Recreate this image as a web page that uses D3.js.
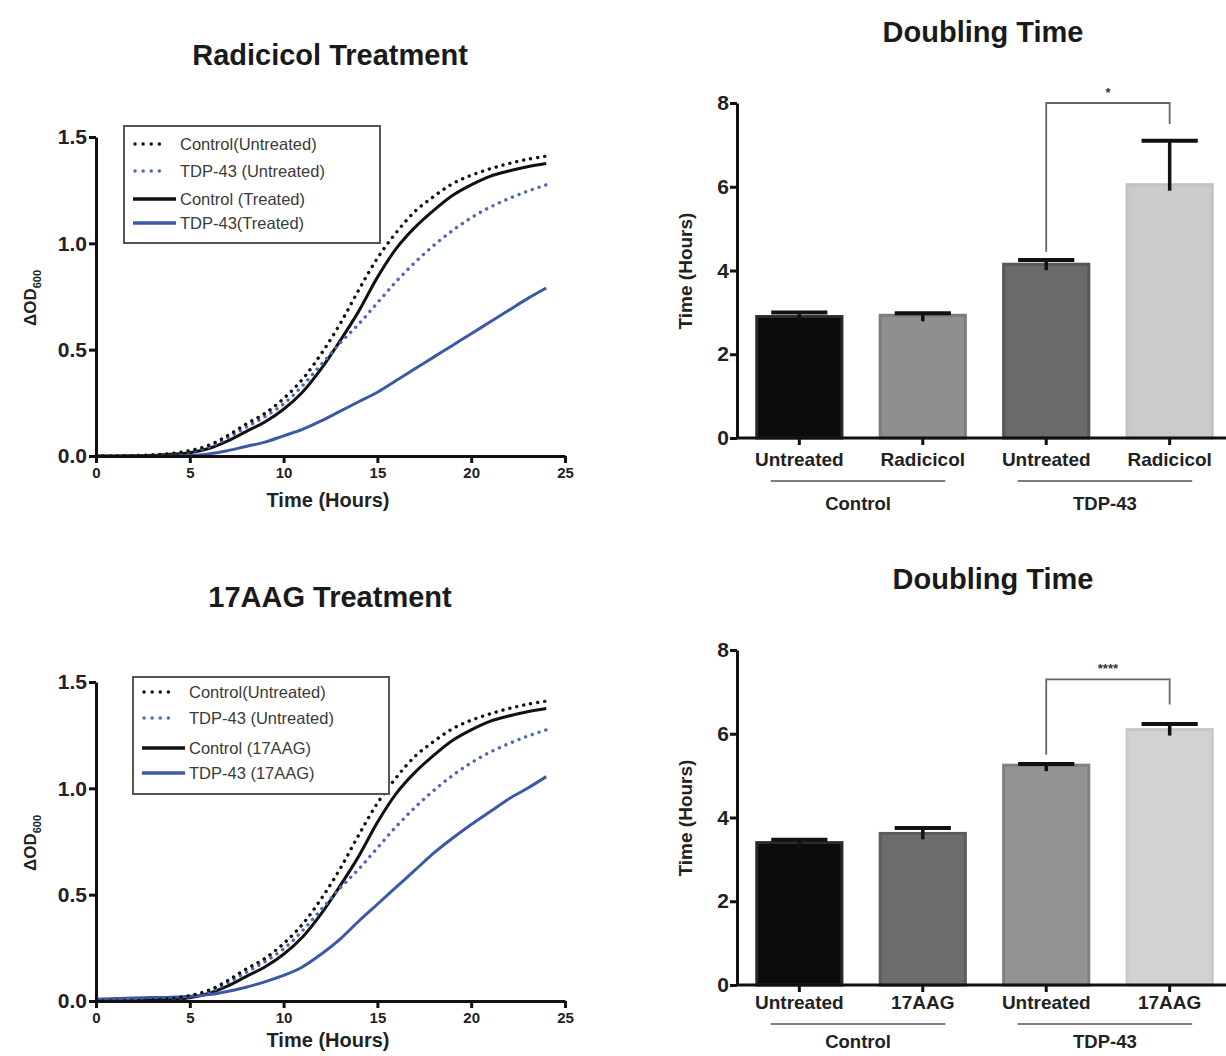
<!DOCTYPE html>
<html>
<head>
<meta charset="utf-8">
<script src="https://cdn.jsdelivr.net/npm/d3@7"></script>
<style>
  html, body { margin: 0; padding: 0; background: #fff; }
  svg { display: block; }
  text { font-family: "Liberation Sans", Arial, Helvetica, sans-serif; }
</style>
</head>
<body>
<svg id="chart" width="1226" height="1056"></svg>
<script>
// ---------------- DATA ----------------
const hours = [0,1,2,3,4,5,6,7,8,9,10,11,12,13,14,15,16,17,18,19,20,21,22,23,24];

const controlUntreated = [0,0,0.002,0.005,0.012,0.025,0.05,0.095,0.15,0.20,0.27,0.36,0.48,0.62,0.78,0.93,1.05,1.15,1.22,1.28,1.32,1.35,1.375,1.395,1.41];
const tdpUntreated     = [0,0,0.002,0.004,0.01,0.02,0.042,0.085,0.135,0.185,0.245,0.33,0.43,0.53,0.62,0.72,0.82,0.91,0.99,1.06,1.12,1.17,1.21,1.245,1.275];
const controlTreated   = [0,0,0.001,0.003,0.008,0.015,0.035,0.07,0.115,0.16,0.22,0.30,0.41,0.54,0.68,0.84,0.975,1.075,1.155,1.225,1.275,1.315,1.34,1.36,1.375];
const tdpRadicicol     = [0,0,0,0,0,0.002,0.01,0.025,0.045,0.065,0.095,0.125,0.165,0.21,0.255,0.30,0.355,0.41,0.465,0.52,0.575,0.63,0.685,0.74,0.79];
const control17AAG     = [0,0,0.001,0.003,0.008,0.015,0.035,0.07,0.115,0.16,0.22,0.30,0.41,0.54,0.68,0.84,0.975,1.075,1.155,1.225,1.275,1.315,1.34,1.36,1.375];
const tdp17AAG         = [0.008,0.012,0.014,0.016,0.018,0.022,0.03,0.045,0.065,0.09,0.12,0.16,0.22,0.29,0.375,0.455,0.535,0.615,0.695,0.765,0.83,0.89,0.95,1.0,1.055];

const odTicks = [0, 0.5, 1.0, 1.5];
const timeTicks = [0, 5, 10, 15, 20, 25];

const legendRadicicol = ["Control(Untreated)", "TDP-43 (Untreated)", "Control (Treated)", "TDP-43(Treated)"];
const legend17AAG = ["Control(Untreated)", "TDP-43 (Untreated)", "Control (17AAG)", "TDP-43 (17AAG)"];

const barCatsRadicicol = ["Untreated", "Radicicol", "Untreated ", "Radicicol "];
const barValsRadicicol = [2.9, 2.93, 4.15, 6.05];
const barErrRadicicol  = [3.0, 2.98, 4.25, 7.1];

const barCats17AAG = ["Untreated", "17AAG", "Untreated ", "17AAG "];
const barVals17AAG = [3.4, 3.62, 5.25, 6.1];
const barErr17AAG  = [3.47, 3.75, 5.28, 6.23];

const barGroups = ["Control", "TDP-43"];
const timeTicksBar = [0, 2, 4, 6, 8];

// ---------------- DRAW ----------------
const svg = d3.select("#chart");
const FONT = '"Liberation Sans", Arial, Helvetica, sans-serif';
const BLUE = "#3d58a6";
const BLUE_DOT = "#5069b4";

function drawGrowth(cfg) {
  const g = svg.append("g");
  const x = d3.scaleLinear().domain([0, 25]).range([96, 565]);
  const y = d3.scaleLinear().domain([0, 1.5]).range([cfg.y0, cfg.y0 - 319]);

  g.append("text").attr("x", 330).attr("y", cfg.titleY)
    .attr("text-anchor", "middle").attr("font-size", 29).attr("font-weight", "bold")
    .attr("fill", "#1a1a1a").text(cfg.title);

  const series = [
    { vals: cfg.s[0], color: "#111", dash: true },
    { vals: cfg.s[1], color: BLUE_DOT, dash: true },
    { vals: cfg.s[2], color: "#111", dash: false },
    { vals: cfg.s[3], color: BLUE, dash: false }
  ];
  const line = d3.line().x((d, i) => x(hours[i])).y(d => y(d)).curve(d3.curveCatmullRom.alpha(0.5));
  [2, 3, 1, 0].forEach(k => {
    const s = series[k];
    g.append("path").datum(s.vals).attr("d", line)
      .attr("fill", "none").attr("stroke", s.color)
      .attr("stroke-width", s.dash ? 3.4 : 3)
      .attr("stroke-linecap", s.dash ? "round" : "butt")
      .attr("stroke-dasharray", s.dash ? "0.1,7" : null);
  });

  const xAxis = d3.axisBottom(x).tickValues(timeTicks).tickFormat(d3.format("d")).tickSize(7).tickSizeOuter(0);
  const gx = g.append("g").attr("transform", `translate(0,${cfg.y0})`).call(xAxis);
  gx.select(".domain").attr("stroke", "#111").attr("stroke-width", 3);
  gx.selectAll(".tick line").attr("stroke", "#111").attr("stroke-width", 3);
  gx.selectAll(".tick text").attr("font-family", FONT).attr("font-size", 15).attr("font-weight", "bold").attr("fill", "#222").attr("dy", "0.8em");

  const yAxis = d3.axisLeft(y).tickValues(odTicks).tickFormat(d3.format(".1f")).tickSize(7).tickSizeOuter(0);
  const gy = g.append("g").attr("transform", "translate(96,0)").call(yAxis);
  gy.select(".domain").attr("stroke", "#111").attr("stroke-width", 3);
  gy.selectAll(".tick line").attr("stroke", "#111").attr("stroke-width", 3);
  gy.selectAll(".tick text").attr("font-family", FONT).attr("font-size", 21).attr("font-weight", "bold").attr("fill", "#222").attr("dx", "1px");

  g.append("text").attr("x", 328).attr("y", cfg.y0 + cfg.xlabOff)
    .attr("text-anchor", "middle").attr("font-size", 20).attr("font-weight", "bold")
    .attr("fill", "#222").text("Time (Hours)");
  const yl = g.append("text")
    .attr("transform", `translate(36,${cfg.y0 - 158}) rotate(-90)`)
    .attr("text-anchor", "middle").attr("font-size", 17).attr("font-weight", "bold").attr("fill", "#222");
  yl.append("tspan").text("\u0394OD");
  yl.append("tspan").attr("font-size", 11).attr("dy", 5).text("600");

  const lg = g.append("g").attr("transform", `translate(${cfg.legX},${cfg.legY})`);
  lg.append("rect").attr("x", 0).attr("y", 0).attr("width", 256).attr("height", 117)
    .attr("fill", "#fff").attr("stroke", "#555").attr("stroke-width", 2);
  series.forEach((s, i) => {
    const ry = cfg.rows[i];
    lg.append("line").attr("x1", s.dash ? 11 : 9).attr("x2", s.dash ? 38 : 52).attr("y1", ry).attr("y2", ry)
      .attr("stroke", s.color).attr("stroke-width", s.dash ? 3.4 : 3.5)
      .attr("stroke-linecap", s.dash ? "round" : "butt")
      .attr("stroke-dasharray", s.dash ? "0.1,8" : null);
    lg.append("text").attr("x", 56).attr("y", ry).attr("dy", "0.36em")
      .attr("font-size", 16.5).attr("fill", "#3a3a3a").text(cfg.legend[i]);
  });
}

function drawBars(cfg) {
  const g = svg.append("g");
  const x = d3.scaleBand().domain(cfg.cats).range([737, 1232]).paddingInner(0.31).paddingOuter(0.16);
  const y = d3.scaleLinear().domain([0, 8]).range([cfg.y0, cfg.y0 - 335]);

  g.append("text").attr("x", cfg.titleX).attr("y", cfg.titleY)
    .attr("text-anchor", "middle").attr("font-size", 29).attr("font-weight", "bold")
    .attr("fill", "#1a1a1a").text("Doubling Time");

  cfg.cats.forEach((c, i) => {
    g.append("rect").attr("x", x(c)).attr("y", y(cfg.vals[i]))
      .attr("width", x.bandwidth()).attr("height", y(0) - y(cfg.vals[i]))
      .attr("fill", cfg.fills[i]).attr("stroke", cfg.strokes[i]).attr("stroke-width", 3);
    const cx = x(c) + x.bandwidth() / 2;
    const cap = x.bandwidth() * 0.66;
    g.append("line").attr("x1", cx).attr("x2", cx).attr("y1", y(cfg.vals[i]) + 6).attr("y2", y(cfg.err[i]))
      .attr("stroke", "#111").attr("stroke-width", 3.5);
    g.append("line").attr("x1", cx - cap / 2).attr("x2", cx + cap / 2).attr("y1", y(cfg.err[i])).attr("y2", y(cfg.err[i]))
      .attr("stroke", "#111").attr("stroke-width", 4);
  });

  const yAxis = d3.axisLeft(y).tickValues(timeTicksBar).tickSize(7).tickSizeOuter(0);
  const gy = g.append("g").attr("transform", "translate(737,0)").call(yAxis);
  gy.select(".domain").attr("stroke", "#111").attr("stroke-width", 3);
  gy.selectAll(".tick line").attr("stroke", "#111").attr("stroke-width", 3);
  gy.selectAll(".tick text").attr("font-family", FONT).attr("font-size", 21).attr("fill", "#222").attr("font-weight", "bold").attr("dx", "2px");

  const xAxis = d3.axisBottom(x).tickSize(7).tickSizeOuter(0);
  const gx = g.append("g").attr("transform", `translate(0,${cfg.y0})`).call(xAxis);
  gx.select(".domain").attr("d", `M737,0H1226`).attr("stroke", "#111").attr("stroke-width", 3);
  gx.selectAll(".tick line").attr("stroke", "#111").attr("stroke-width", 3);
  gx.selectAll(".tick text").attr("font-family", FONT).attr("font-size", 19).attr("font-weight", "bold").attr("fill", "#222")
    .attr("y", cfg.tickOff).attr("dy", "0.35em");

  barGroups.forEach((grp, k) => {
    const c0 = cfg.cats[k * 2], c1 = cfg.cats[k * 2 + 1];
    const xa = x(c0) + 14, xb = x(c1) + x.bandwidth() - 20;
    g.append("line").attr("x1", xa).attr("x2", xb).attr("y1", cfg.y0 + cfg.lineOff).attr("y2", cfg.y0 + cfg.lineOff)
      .attr("stroke", "#555").attr("stroke-width", 1.5);
    g.append("text").attr("x", (xa + xb) / 2).attr("y", cfg.y0 + cfg.grpOff).attr("dy", "0.35em")
      .attr("text-anchor", "middle").attr("font-size", 18.5).attr("font-weight", "bold").attr("fill", "#222").text(grp);
  });

  const ca = x(cfg.cats[2]) + x.bandwidth() / 2, cb = x(cfg.cats[3]) + x.bandwidth() / 2;
  const yTop = y(cfg.brTop);
  g.append("path").attr("d", `M${ca},${y(cfg.brL)}V${yTop}H${cb}V${y(cfg.brR)}`)
    .attr("fill", "none").attr("stroke", "#666").attr("stroke-width", 1.8);
  g.append("text").attr("x", (ca + cb) / 2).attr("y", yTop - 6)
    .attr("text-anchor", "middle").attr("font-size", 13).attr("font-weight", "bold").attr("fill", "#333").text(cfg.star);

  g.append("text")
    .attr("transform", `translate(692,${cfg.y0 - 167}) rotate(-90)`)
    .attr("text-anchor", "middle").attr("font-size", 19).attr("font-weight", "bold").attr("fill", "#222")
    .text("Time (Hours)");
}

drawGrowth({ title: "Radicicol Treatment", titleY: 65, y0: 456, legX: 124, legY: 126, xlabOff: 51,
  rows: [18, 45, 73, 97],
  s: [controlUntreated, tdpUntreated, controlTreated, tdpRadicicol], legend: legendRadicicol });
drawGrowth({ title: "17AAG Treatment", titleY: 607, y0: 1001, legX: 133, legY: 677, xlabOff: 46,
  rows: [15, 41, 71, 96],
  s: [controlUntreated, tdpUntreated, control17AAG, tdp17AAG], legend: legend17AAG });

drawBars({ cats: barCatsRadicicol, vals: barValsRadicicol, err: barErrRadicicol, y0: 438,
  titleX: 983, titleY: 42, fills: ["#0b0b0c", "#8f8f92", "#6a6a6b", "#cbcbcb"],
  strokes: ["#2a2a2a", "#7c7c7e", "#575758", "#c2c2c2"],
  tickOff: 21, lineOff: 43, grpOff: 66,
  brTop: 8.0, brL: 4.45, brR: 7.5, star: "*" });
drawBars({ cats: barCats17AAG, vals: barVals17AAG, err: barErr17AAG, y0: 985,
  titleX: 993, titleY: 589, fills: ["#0b0b0c", "#6d6d6e", "#939396", "#d2d2d2"],
  strokes: ["#2a2a2a", "#5c5c5d", "#808083", "#c8c8c8"],
  tickOff: 17, lineOff: 39, grpOff: 57,
  brTop: 7.3, brL: 5.5, brR: 6.7, star: "****" });
</script>
</body>
</html>
